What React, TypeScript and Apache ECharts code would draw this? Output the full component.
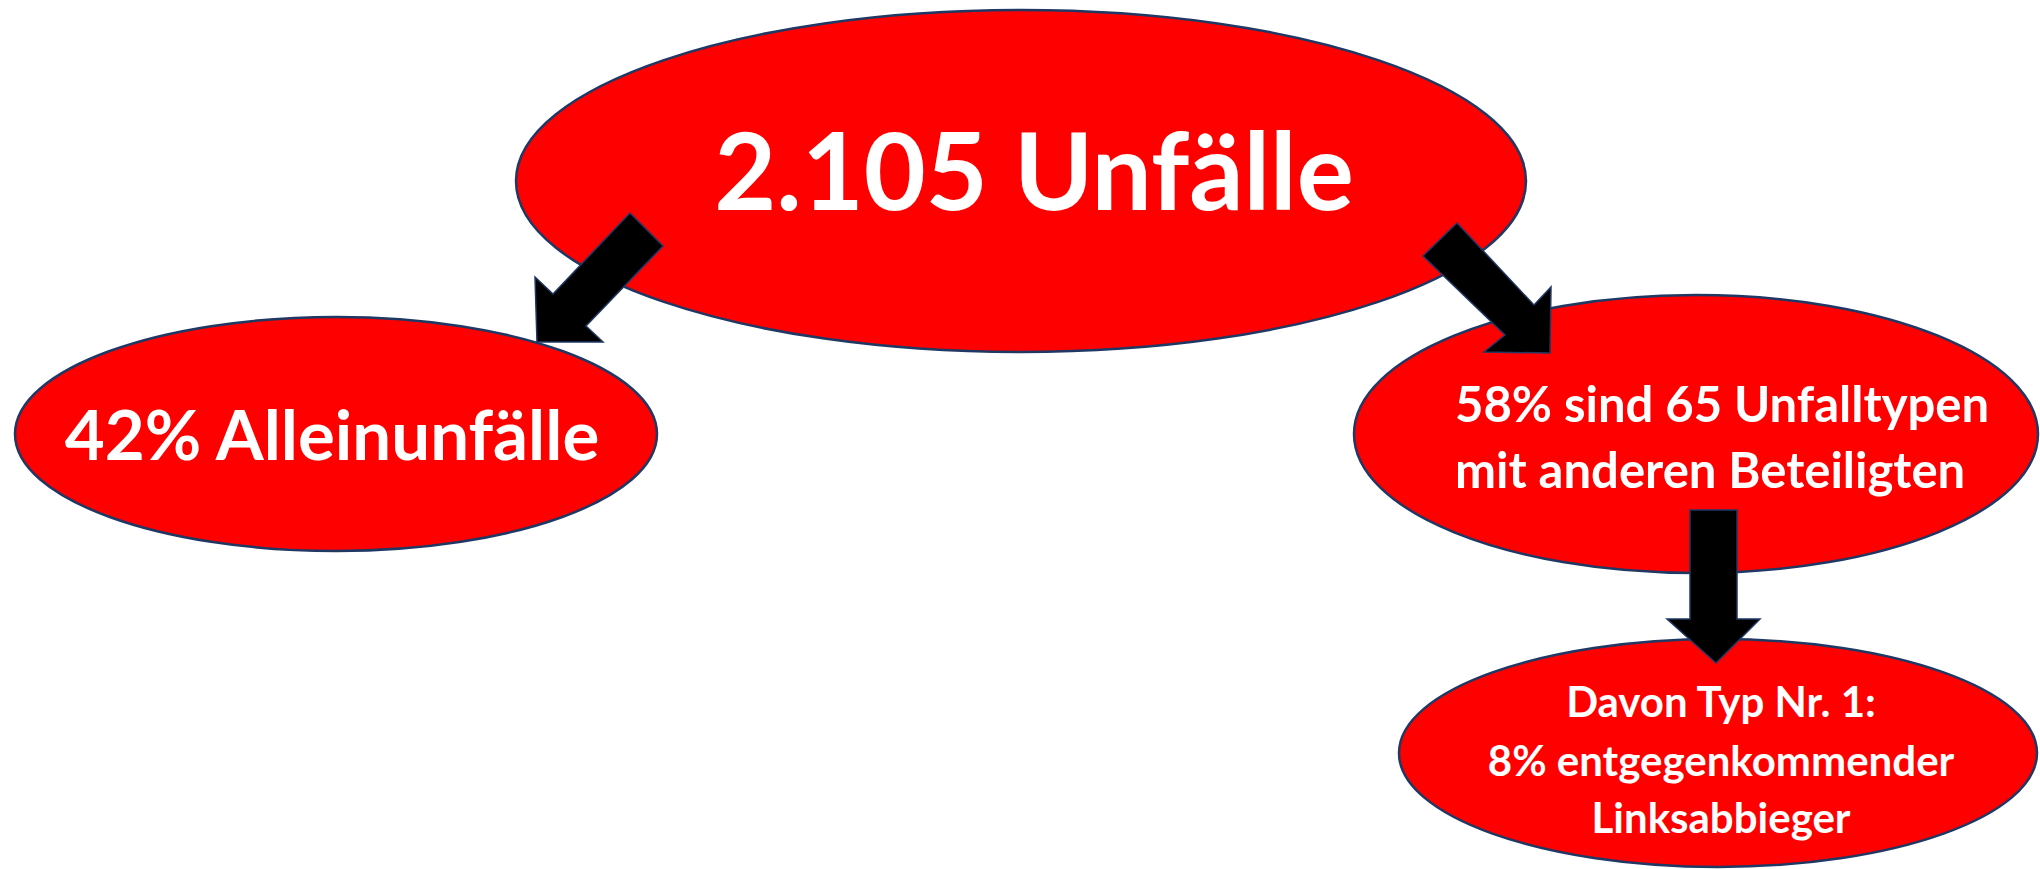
import React, { useEffect, useRef } from "react";
import * as echarts from "echarts";

// ---- content ----
const totalLabel = ["2.105 Unfälle"];
const aloneLabel = ["42% Alleinunfälle"];
const othersLabel = ["58% sind 65 Unfalltypen", "mit anderen Beteiligten"];
const typeOneLabel = ["Davon Typ Nr. 1:", "8% entgegenkommender", "Linksabbieger"];

// ---- layout (pixels) ----
const W = 2040;
const H = 869;
const FILL = "#FF0000";
const EDGE = "#1F3864";
const FONT = "Lato";

const ellipses = [
  { cx: 1021, cy: 181, rx: 505, ry: 171 },
  { cx: 336, cy: 434, rx: 321, ry: 117 },
  { cx: 1696, cy: 434, rx: 342, ry: 139 },
  { cx: 1718, cy: 753, rx: 319, ry: 114 },
];

const arrows: number[][][] = [
  [[630, 213], [663, 246], [586, 326], [603, 342], [537, 342], [535, 277], [553, 294]],
  [[1457, 223], [1534, 305], [1551, 287], [1550, 353], [1484, 352], [1505, 335], [1423, 256]],
  [[1690, 510], [1737, 510], [1737, 619], [1760, 619], [1716, 663], [1667, 619], [1690, 619]],
];

type Line = { text: string; x: number; y: number; size: number; align: string };

function buildLines(): Line[] {
  const out: Line[] = [];
  out.push({ text: totalLabel[0], x: 1034, y: 168, size: 107, align: "center" });
  out.push({ text: aloneLabel[0], x: 332, y: 433, size: 69, align: "center" });
  const oy = [403, 469];
  othersLabel.forEach((t, i) => out.push({ text: t, x: 1455, y: oy[i], size: 49, align: "left" }));
  const ty = [701, 760, 817];
  typeOneLabel.forEach((t, i) => out.push({ text: t, x: 1721, y: ty[i], size: 42, align: "center" }));
  return out;
}

export default function App() {
  const ref = useRef<HTMLDivElement>(null);
  useEffect(() => {
    document.body.style.margin = "0";
    const chart = echarts.init(ref.current!, undefined, { renderer: "svg" });
    const elements: any[] = [];
    ellipses.forEach((e) =>
      elements.push({
        type: "ellipse",
        shape: { cx: e.cx, cy: e.cy, rx: e.rx, ry: e.ry },
        style: { fill: FILL, stroke: EDGE, lineWidth: 2.5 },
      })
    );
    buildLines().forEach((l) =>
      elements.push({
        type: "text",
        x: l.x,
        y: l.y,
        style: {
          text: l.text,
          fill: "#FFFFFF",
          font: `bold ${l.size}px ${FONT}`,
          align: l.align,
          verticalAlign: "middle",
        },
      })
    );
    arrows.forEach((pts) =>
      elements.push({
        type: "polygon",
        shape: { points: pts },
        style: { fill: "#000000", stroke: EDGE, lineWidth: 1.5 },
      })
    );
    chart.setOption({
      animation: false,
      backgroundColor: "#FFFFFF",
      graphic: { elements },
    });
    return () => chart.dispose();
  }, []);
  return <div ref={ref} style={{ width: W, height: H, position: "absolute", left: 0, top: 0 }} />;
}
